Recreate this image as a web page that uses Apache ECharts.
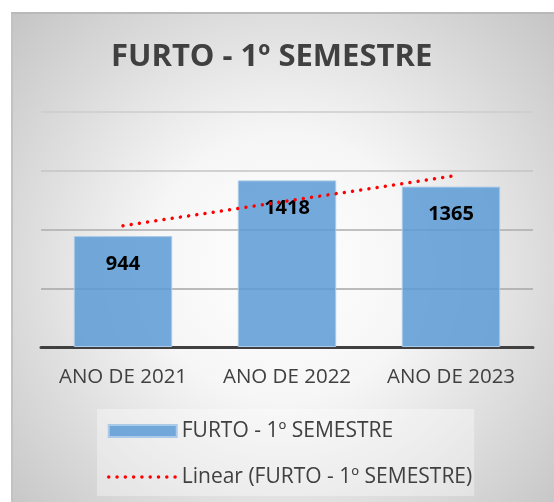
<!DOCTYPE html>
<html>
<head>
<meta charset="utf-8">
<script src="https://cdn.jsdelivr.net/npm/echarts@6/dist/echarts.min.js"></script>
<style>
  html, body { margin: 0; padding: 0; background: #ffffff; }
  #frame {
    position: absolute; left: 11px; top: 12px;
    border-top: 2px solid #b9b9b9; border-left: 2px solid #c2c2c2;
  }
  #furtoChart { width: 541px; height: 488px; }
</style>
</head>
<body>
<div id="frame"><div id="furtoChart"></div></div>
<script>
// dados
var categorias = ['ANO DE 2021', 'ANO DE 2022', 'ANO DE 2023'];
var furto = [944, 1418, 1365];
// linha de tendência linear
var tendencia = [1032, 1242, 1453];
var nomeSerie = 'FURTO - 1º SEMESTRE';
var nomeTendencia = 'Linear (FURTO - 1º SEMESTRE)';

var furtoChart = echarts.init(document.getElementById('furtoChart'));

var pontilhado = {
    color: '#ff0000',
    width: 3.5,
    type: [0.01, 8.28],
    cap: 'round'
};

var option = {
    backgroundColor: {
        type: 'radial', x: 0.5, y: 0.52, r: 0.78,
        colorStops: [
            { offset: 0, color: '#ffffff' },
            { offset: 0.35, color: '#f6f6f6' },
            { offset: 1, color: '#c3c3c3' }
        ]
    },
    textStyle: { fontFamily: 'Open Sans' },
    title: {
        text: nomeSerie,
        left: 98,
        top: 23,
        padding: 0,
        textStyle: {
            fontFamily: 'Open Sans',
            fontSize: 31,
            fontWeight: 'bold',
            color: '#404040',
            lineHeight: 40
        }
    },
    legend: {
        orient: 'vertical',
        left: 84,
        top: 395,
        padding: [9, 2, 6, 10],
        itemGap: 20,
        itemWidth: 68,
        itemHeight: 12,
        backgroundColor: 'rgba(255,255,255,0.35)',
        textStyle: {
            fontFamily: 'Open Sans',
            fontSize: 21,
            color: '#404040',
            lineHeight: 26
        },
        data: [
            { name: nomeSerie, icon: 'rect' },
            {
                name: nomeTendencia,
                itemStyle: { color: 'transparent', borderWidth: 0 },
                lineStyle: pontilhado
            }
        ]
    },
    grid: {
        left: 28,
        right: 21,
        top: 98,
        bottom: 155
    },
    xAxis: {
        type: 'category',
        data: categorias,
        axisTick: { show: false },
        axisLine: {
            lineStyle: { color: '#404040', width: 3 }
        },
        axisLabel: {
            interval: 0,
            margin: 20,
            fontFamily: 'Open Sans',
            fontSize: 20.5,
            color: '#404040'
        }
    },
    yAxis: {
        type: 'value',
        min: 0,
        max: 2000,
        interval: 500,
        axisLabel: { show: false },
        axisLine: { show: false },
        axisTick: { show: false },
        splitLine: {
            lineStyle: {
                color: ['#a6a6a6', '#a6a6a6', '#acacac', '#c4c4c4', '#cccccc'],
                width: 1.5
            }
        }
    },
    series: [
        {
            name: nomeSerie,
            type: 'bar',
            barWidth: '60%',
            data: furto,
            itemStyle: {
                color: 'rgba(91,155,213,0.85)',
                borderColor: '#a9cbe9',
                borderWidth: 1
            },
            label: {
                show: true,
                position: 'insideTop',
                distance: 18,
                fontFamily: 'Open Sans',
                fontSize: 20,
                fontWeight: 'bold',
                color: '#000000'
            }
        },
        {
            name: nomeTendencia,
            type: 'line',
            data: tendencia,
            symbol: 'none',
            z: 5,
            lineStyle: pontilhado,
            itemStyle: { color: '#ff0000' }
        }
    ]
};

furtoChart.setOption(option);
</script>
</body>
</html>
